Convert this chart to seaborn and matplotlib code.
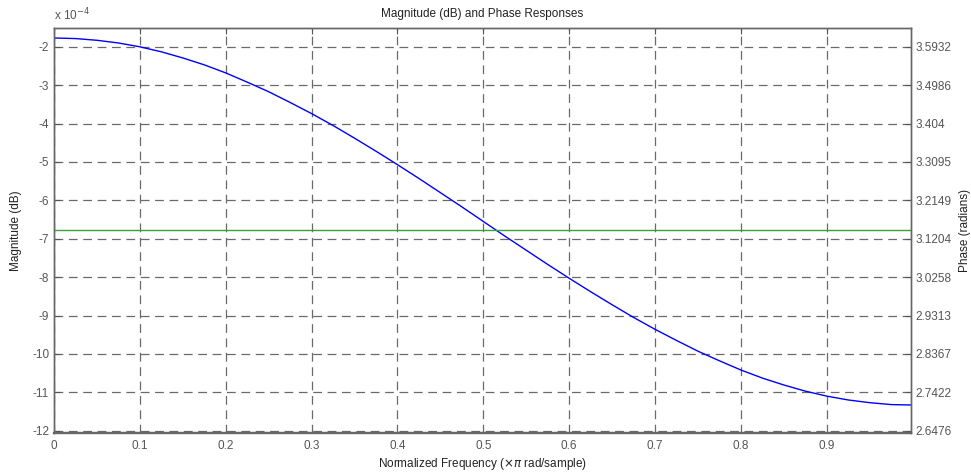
import numpy as np
import pandas as pd
import seaborn as sns
import matplotlib.pyplot as plt

# Normalized frequency (x pi rad/sample)
freq = [0.000, 0.025, 0.050, 0.075, 0.100, 0.125, 0.150, 0.175, 0.200, 0.225,
        0.250, 0.275, 0.300, 0.325, 0.350, 0.375, 0.400, 0.425, 0.450, 0.475,
        0.500, 0.525, 0.550, 0.575, 0.600, 0.625, 0.650, 0.675, 0.700, 0.725,
        0.750, 0.775, 0.800, 0.825, 0.850, 0.875, 0.900, 0.925, 0.950, 0.975, 0.998]
# Magnitude response, in units of 1e-4 dB
magnitude = [-1.77, -1.785, -1.83, -1.90, -2.00, -2.13, -2.29, -2.47, -2.68, -2.92,
             -3.17, -3.45, -3.74, -4.05, -4.38, -4.72, -5.07, -5.43, -5.80, -6.17,
             -6.55, -6.93, -7.30, -7.67, -8.03, -8.38, -8.72, -9.05, -9.36, -9.65,
             -9.93, -10.18, -10.42, -10.63, -10.81, -10.97, -11.10, -11.20, -11.27, -11.32, -11.33]
# Phase response (radians)
phase = [3.1416] * len(freq)

mag_ticks = [-2, -3, -4, -5, -6, -7, -8, -9, -10, -11, -12]
phase_ticks = [3.5932, 3.4986, 3.404, 3.3095, 3.2149, 3.1204, 3.0258, 2.9313, 2.8367, 2.7422, 2.6476]
phase_tick_labels = ["3.5932", "3.4986", "3.404", "3.3095", "3.2149", "3.1204",
                     "3.0258", "2.9313", "2.8367", "2.7422", "2.6476"]
freq_ticks = [0, 0.1, 0.2, 0.3, 0.4, 0.5, 0.6, 0.7, 0.8, 0.9]
freq_tick_labels = ["0", "0.1", "0.2", "0.3", "0.4", "0.5", "0.6", "0.7", "0.8", "0.9"]

df = pd.DataFrame({"freq": freq, "magnitude": magnitude, "phase": phase})

sns.set_theme(style="white")
plt.rcParams["font.family"] = ["Liberation Sans", "DejaVu Sans"]

grey = "#555555"
fs = 8.5
fig = plt.figure(figsize=(9.71, 4.74), dpi=100)
ax = fig.add_axes([54 / 971, 41 / 474, 857 / 971, 405 / 474])

mag_lo, mag_hi = -12.06, -1.51
ax.set_xlim(0, 0.998)
ax.set_ylim(mag_lo, mag_hi)

sns.lineplot(data=df, x="freq", y="magnitude", ax=ax, color="#0000ff", lw=1.0)

ax.set_xticks(freq_ticks)
ax.set_xticklabels(freq_tick_labels)
ax.set_yticks(mag_ticks)
ax.set_yticklabels([str(t) for t in mag_ticks])
ax.grid(True, color="#6a6a6a", linestyle=(0, (7, 4.5)), linewidth=0.9)
ax.tick_params(axis="both", direction="in", length=4, width=0.8, colors=grey,
               labelsize=fs, labelcolor=grey, top=True)
ax.tick_params(axis="x", pad=5)
for s in ax.spines.values():
    s.set_color("#666666")
    s.set_linewidth(1.0)
ax.spines["bottom"].set_linewidth(1.6)

ax.set_xlabel("Normalized Frequency ($\\times\\pi$ rad/sample)", fontsize=fs, color="#222222", labelpad=3)
ax.set_ylabel("Magnitude (dB)", fontsize=fs, color="#222222", labelpad=7)
ax.set_title("Magnitude (dB) and Phase Responses", fontsize=fs, color="#222222", pad=8)
ax.text(0.0, 1.012, "x 10$^{-4}$", transform=ax.transAxes, fontsize=fs, color=grey,
        ha="left", va="bottom")

# Phase axis shares positions with the magnitude ticks
ax2 = ax.twinx()
scale = (phase_ticks[0] - phase_ticks[-1]) / (mag_ticks[0] - mag_ticks[-1])
ax2.set_ylim(phase_ticks[-1] + (mag_lo - mag_ticks[-1]) * scale,
             phase_ticks[0] + (mag_hi - mag_ticks[0]) * scale)
sns.lineplot(data=df, x="freq", y="phase", ax=ax2, color="#3c9f3c", lw=1.0)
ax2.set_yticks(phase_ticks)
ax2.set_yticklabels(phase_tick_labels)
ax2.tick_params(axis="y", direction="in", length=4, width=0.8, colors=grey,
                labelsize=fs, labelcolor=grey)
ax2.set_ylabel("Phase (radians)", fontsize=fs, color="#222222", labelpad=5)
ax2.grid(False)
for s in ax2.spines.values():
    s.set_color("#666666")
    s.set_linewidth(1.0)
ax2.spines["bottom"].set_linewidth(1.6)

fig.savefig("out.png", dpi=100, facecolor="white")
